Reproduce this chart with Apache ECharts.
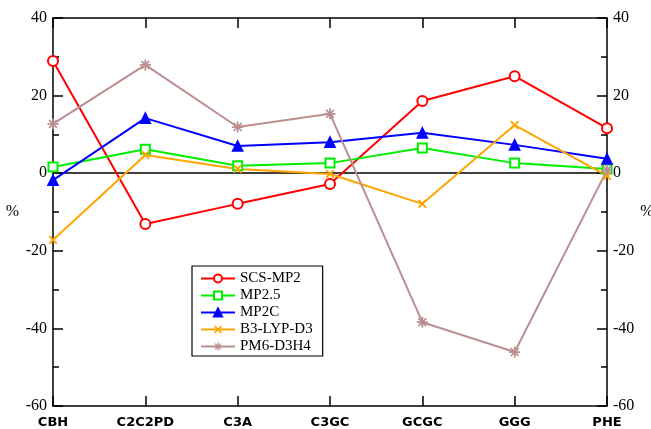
<!DOCTYPE html>
<html><head><meta charset="utf-8">
<script src="https://cdn.jsdelivr.net/npm/echarts@6/dist/echarts.min.js"></script>
<style>html,body{margin:0;padding:0;background:#fff}#c{width:651px;height:429px}</style>
</head><body><div id="c"></div>
<script>
const categories = ['CBH','C2C2PD','C3A','C3GC','GCGC','GGG','PHE'];
const scsMP2   = [28.9, -13.1, -7.9, -2.8, 18.6, 25.0, 11.6];
const mp25     = [1.6, 6.2, 1.9, 2.6, 6.5, 2.6, 1.1];
const mp2c     = [-1.8, 14.2, 7.0, 8.0, 10.4, 7.3, 3.7];
const b3lyp    = [-17.2, 4.7, 1.1, -0.2, -7.9, 12.4, -0.7];
const pm6      = [12.7, 27.9, 11.9, 15.3, -38.4, -46.1, 0.8];
const yTicks = [-60, -40, -20, 0, 20, 40];

const X_PATH = 'path://M0,1.5L1.5,0L5,3.5L8.5,0L10,1.5L6.5,5L10,8.5L8.5,10L5,6.5L1.5,10L0,8.5L3.5,5Z';
const STAR_PATH = 'path://M4.2,0H5.8V3.1L8,0.9L9.1,2L6.9,4.2H10V5.8H6.9L9.1,8L8,9.1L5.8,6.9V10H4.2V6.9L2,9.1L0.9,8L3.1,5.8H0V4.2H3.1L0.9,2L2,0.9L4.2,3.1Z';
const serif = 'Liberation Serif';

const chart = echarts.init(document.getElementById('c'), null, {renderer:'canvas'});
function yAx(pos){
  return {
    type:'value', position:pos, min:-60, max:40, interval:20,
    axisLine:{show:true, onZero:false, lineStyle:{color:'#000', width:1.5}},
    axisTick:{show:true, inside:true, length:10, lineStyle:{color:'#000', width:1.5}},
    minorTick:{show:true, splitNumber:2, length:6, lineStyle:{color:'#000', width:1.5}},
    splitLine:{show:false},
    axisLabel:{color:'#000', fontFamily:serif, fontSize:16, margin:6,
      formatter:v=> yTicks.includes(v)? String(v):''},
    name:'%', nameLocation:'middle', nameGap: pos==='left'?34:31, nameRotate:0,
    nameTextStyle:{fontFamily:serif, fontSize:16, color:'#000'}
  };
}
function mk(name, data, color, symbol, size, extra){
  return Object.assign({
    name, type:'line', data, symbol, symbolSize:size,
    lineStyle:{color, width:2}, itemStyle:{color, borderColor:color, borderWidth:1.6},
    showAllSymbol:true, z:3
  }, extra||{});
}
const option = {
  animation:false,
  grid:{left:53, right:44, top:18, bottom:23, show:false, containLabel:false, outerBoundsMode:'none'},
  xAxis:[
    {type:'category', data:categories, boundaryGap:false, position:'bottom',
     axisLine:{onZero:false, lineStyle:{color:'#000', width:1.5}},
     axisTick:{inside:true, length:10, alignWithLabel:true, lineStyle:{color:'#000', width:1.5}},
     axisLabel:{color:'#000', fontFamily:'DejaVu Sans', fontWeight:'bold', fontSize:13, margin:10,
       interval:0},
     splitLine:{show:false}},
    {type:'category', data:categories, boundaryGap:false, position:'top',
     axisLine:{onZero:false, lineStyle:{color:'#000', width:1.5}},
     axisTick:{inside:true, length:10, lineStyle:{color:'#000', width:1.5}},
     axisLabel:{show:false}, splitLine:{show:false}}
  ],
  yAxis:[yAx('left'), yAx('right')],
  legend:{
    orient:'vertical', left:192, top:266, width:128,
    borderColor:'#000', borderWidth:1.2, padding:[5,10,2,8], itemGap:2,
    itemWidth:34, itemHeight:10,
    textStyle:{fontFamily:serif, fontSize:15, color:'#000'},
    data:['SCS-MP2','MP2.5','MP2C','B3-LYP-D3','PM6-D3H4']
  },
  series:[
    mk('SCS-MP2', scsMP2, '#ff0000', 'emptyCircle', 10, {
      markLine:{silent:true, symbol:'none', label:{show:false},
        lineStyle:{color:'#000', width:1.5, type:'solid'}, data:[{yAxis:0}], z:1}
    }),
    mk('MP2.5', mp25, '#00ee00', 'emptyRect', 9),
    mk('MP2C', mp2c, '#0000ff', 'triangle', 10),
    mk('B3-LYP-D3', b3lyp, '#ffa500', X_PATH, 9, {itemStyle:{color:'#ffa500', borderWidth:0}}),
    mk('PM6-D3H4', pm6, '#bc8f8f', STAR_PATH, 11, {itemStyle:{color:'#bc8f8f', borderWidth:0}})
  ]
};
chart.setOption(option);
</script></body></html>
